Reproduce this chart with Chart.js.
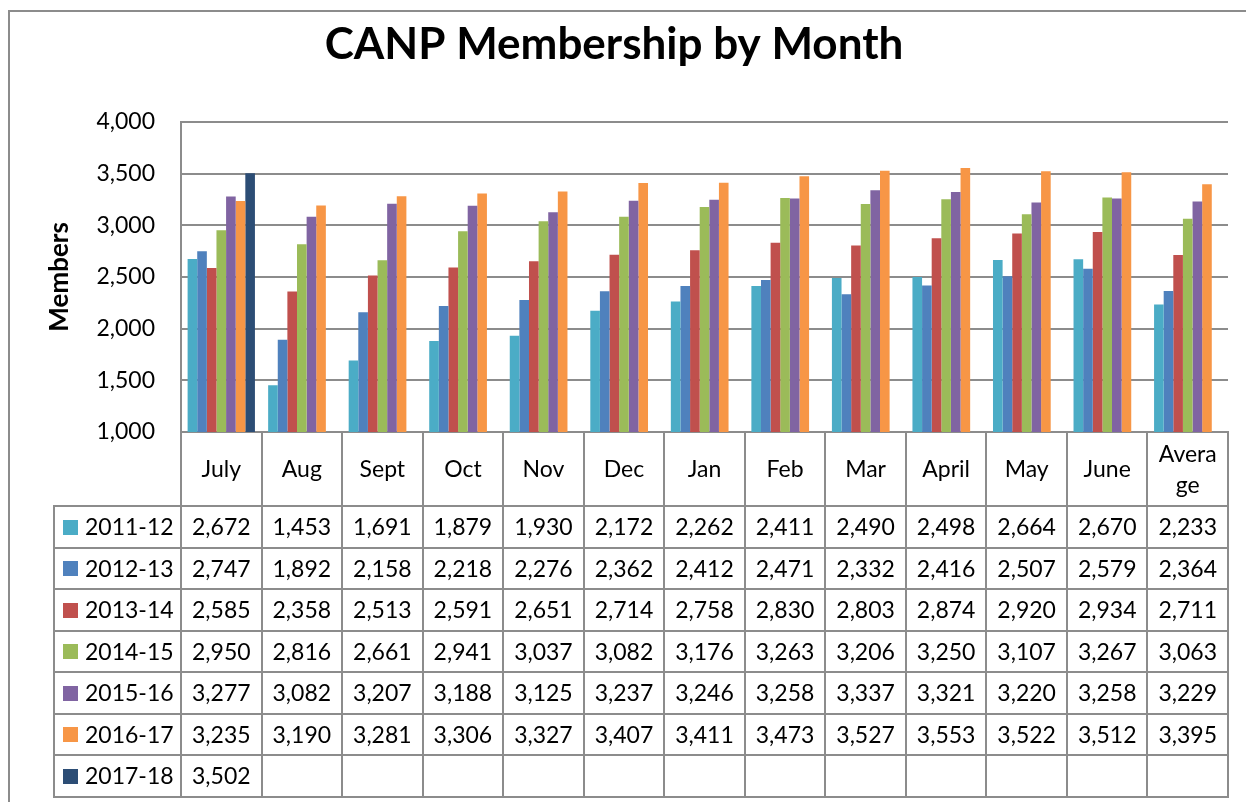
<!DOCTYPE html>
<html>
<head>
<meta charset="utf-8">
<script src="https://cdn.jsdelivr.net/npm/chart.js" type="text/javascript"></script>
<style>
  html, body { margin: 0; padding: 0; background: #ffffff; }
  #wrap { position: relative; width: 1246px; height: 802px; }
  #frame {
    position: absolute; left: 8px; top: 10px; right: -4px; bottom: -4px;
    border-top: 2px solid #8c8c8c; border-left: 2px solid #8c8c8c;
  }
  #chart { position: absolute; left: 0; top: 0; }
</style>
</head>
<body>
<div id="wrap">
  <div id="frame"></div>
  <canvas id="chart" width="1246" height="802"></canvas>
</div>
<script>
// ---------------------------------------------------------------------------
//  Datos del gráfico
// ---------------------------------------------------------------------------
const categories = ["July", "Aug", "Sept", "Oct", "Nov", "Dec", "Jan", "Feb", "Mar", "April", "May", "June", "Average"];
const seasonNames = ["2011-12", "2012-13", "2013-14", "2014-15", "2015-16", "2016-17", "2017-18"];

const members2011 = [2672, 1453, 1691, 1879, 1930, 2172, 2262, 2411, 2490, 2498, 2664, 2670, 2233];
const members2012 = [2747, 1892, 2158, 2218, 2276, 2362, 2412, 2471, 2332, 2416, 2507, 2579, 2364];
const members2013 = [2585, 2358, 2513, 2591, 2651, 2714, 2758, 2830, 2803, 2874, 2920, 2934, 2711];
const members2014 = [2950, 2816, 2661, 2941, 3037, 3082, 3176, 3263, 3206, 3250, 3107, 3267, 3063];
const members2015 = [3277, 3082, 3207, 3188, 3125, 3237, 3246, 3258, 3337, 3321, 3220, 3258, 3229];
const members2016 = [3235, 3190, 3281, 3306, 3327, 3407, 3411, 3473, 3527, 3553, 3522, 3512, 3395];
const members2017 = [3502, null, null, null, null, null, null, null, null, null, null, null, null];

const yTicks = [1000, 1500, 2000, 2500, 3000, 3500, 4000];

const seasonColors = ["#4bacc6", "#4f81bd", "#c0504d", "#9bbb59", "#8064a2", "#f79646", "#2c4d75"];
const allSeries = [members2011, members2012, members2013, members2014, members2015, members2016, members2017];

const FONT = "Lato, 'Open Sans', sans-serif";
const gridColor = "#8c8c8c";
const headerHeight = 74;
const rowHeight = 41.5;
const legendLeft = 54;

const fmt = v => (v === null || v === undefined) ? "" : v.toLocaleString("en-US");

// Parte un texto en líneas que quepan en el ancho de la celda
function wrapText(ctx, text, maxW) {
  if (ctx.measureText(text).width <= maxW) return [text];
  const lines = [];
  let cur = "";
  for (const ch of text) {
    if (cur && ctx.measureText(cur + ch).width > maxW) {
      lines.push(cur);
      cur = ch;
    } else {
      cur += ch;
    }
  }
  if (cur) lines.push(cur);
  return lines;
}

// ---------------------------------------------------------------------------
//  Plugin: tabla de datos bajo el eje X (al estilo Excel)
// ---------------------------------------------------------------------------
const dataTablePlugin = {
  id: "dataTable",
  afterDraw(chart) {
    const ctx = chart.ctx;
    const xs = chart.scales.x;
    const area = chart.chartArea;
    const n = categories.length;
    const colW = (area.right - area.left) / n;
    const headTop = area.bottom;
    const headBottom = headTop + headerHeight;
    const sets = chart.data.datasets;
    const tableBottom = headBottom + rowHeight * sets.length;

    ctx.save();
    ctx.strokeStyle = gridColor;
    ctx.lineWidth = 2;
    ctx.beginPath();
    // líneas verticales entre categorías
    for (let i = 0; i <= n; i++) {
      const px = Math.round(xs.getPixelForValue(Math.min(i, n - 1)) + (i === n ? colW / 2 : -colW / 2));
      ctx.moveTo(px, headTop);
      ctx.lineTo(px, tableBottom);
    }
    // borde izquierdo de la columna de leyenda
    ctx.moveTo(legendLeft, headBottom);
    ctx.lineTo(legendLeft, tableBottom);
    // líneas horizontales
    for (let r = 0; r <= sets.length; r++) {
      const py = Math.round(headBottom + r * rowHeight);
      ctx.moveTo(legendLeft - 1, py);
      ctx.lineTo(area.right + 1, py);
    }
    ctx.stroke();

    // encabezados de categoría
    ctx.fillStyle = "#000000";
    ctx.font = "23px " + FONT;
    ctx.textAlign = "center";
    ctx.textBaseline = "middle";
    categories.forEach((cat, i) => {
      const cx = xs.getPixelForValue(i);
      const lines = wrapText(ctx, cat, colW - 22);
      const lh = 31;
      const y0 = (headTop + headBottom) / 2 - (lines.length - 1) * lh / 2;
      lines.forEach((ln, k) => ctx.fillText(ln, cx, y0 + k * lh + 1));
    });

    // filas de la tabla
    sets.forEach((ds, r) => {
      const cy = headBottom + r * rowHeight + rowHeight / 2 + 1;
      ctx.fillStyle = ds.backgroundColor;
      ctx.fillRect(63, Math.round(cy - 8), 15, 15);
      ctx.fillStyle = "#000000";
      ctx.textAlign = "left";
      ctx.fillText(ds.label, 85, cy);
      ctx.textAlign = "center";
      ds.data.forEach((v, i) => {
        ctx.fillText(fmt(v), xs.getPixelForValue(i), cy);
      });
    });
    ctx.restore();
  }
};

const datasets = allSeries.map((data, i) => ({
  label: seasonNames[i],
  data: data,
  backgroundColor: seasonColors[i],
  borderWidth: 0,
  categoryPercentage: 0.836,
  barPercentage: 1.0
}));

new Chart(document.getElementById("chart").getContext("2d"), {
  type: "bar",
  data: { labels: categories, datasets: datasets },
  plugins: [dataTablePlugin],
  options: {
    responsive: false,
    animation: false,
    layout: { padding: { top: 0, left: 0, right: 18, bottom: 5 } },
    plugins: {
      legend: { display: false },
      tooltip: { enabled: false },
      title: {
        display: true,
        text: "CANP Membership by Month",
        color: "#000000",
        font: { family: FONT, size: 44, weight: "bold" },
        padding: { top: 18, bottom: 51 }
      }
    },
    scales: {
      x: {
        ticks: { display: false },
        grid: { display: false },
        border: { display: true, color: gridColor, width: 2 },
        afterFit(scale) { scale.height = 365; }
      },
      y: {
        min: yTicks[0],
        max: yTicks[yTicks.length - 1],
        afterBuildTicks(scale) { scale.ticks = yTicks.map(v => ({ value: v })); },
        ticks: {
          color: "#000000",
          font: { family: FONT, size: 23 },
          padding: 26,
          callback: v => fmt(v)
        },
        grid: { color: gridColor, lineWidth: 2, drawTicks: false },
        border: { display: true, color: gridColor, width: 2 },
        title: {
          display: true,
          text: "Members",
          color: "#000000",
          font: { family: FONT, size: 26, weight: "bold" },
          padding: { top: 44, bottom: 0 }
        },
        afterFit(scale) { scale.width = 181; }
      }
    }
  }
});
</script>
</body>
</html>
